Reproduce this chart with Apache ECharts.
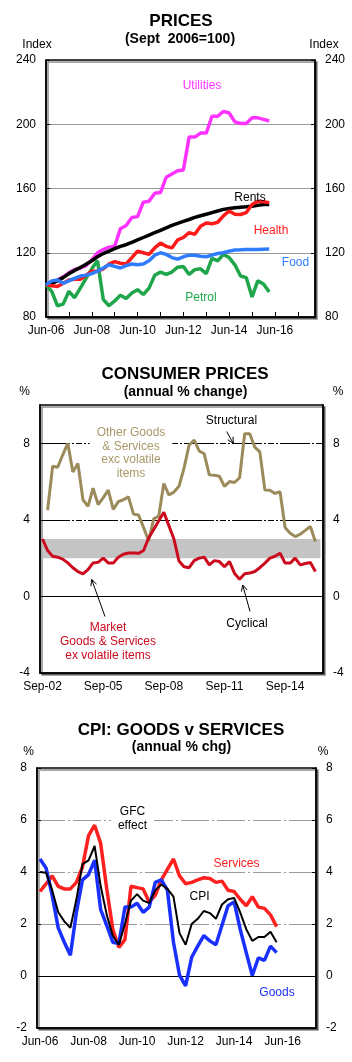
<!DOCTYPE html>
<html>
<head>
<meta charset="utf-8">
<script src="https://cdn.jsdelivr.net/npm/echarts@6/dist/echarts.min.js"></script>
<style>
  html, body { margin: 0; padding: 0; background: #fff; }
  #chart { width: 352px; height: 1062px; }
</style>
</head>
<body>
<div id="chart"></div>
<script>
// ---- data ----
// quarterly categories
var quarterNames = ['Mar', 'Jun', 'Sep', 'Dec'];
function quarterLabels(year, q, count) {
    var out = [];
    for (var i = 0; i < count; i++) {
        out.push(quarterNames[q] + '-' + String(year % 100).padStart(2, '0'));
        q++;
        if (q === 4) { q = 0; year++; }
    }
    return out;
}
var priceQuarters = quarterLabels(2006, 1, 48);   // Jun-06 .. Mar-18
var cpiQuarters = quarterLabels(2002, 2, 56);     // Sep-02 .. Jun-16
var gsQuarters = quarterLabels(2006, 1, 46);      // Jun-06 .. Sep-17

// PRICES (Sept 2006=100)
var utilities = [100, 101, 103, 105, 107.5, 109.5, 110.5, 112, 115.5, 120, 122, 123.5, 124, 135, 137, 142, 142.5, 151.5, 152, 157,
    157.5, 167, 169, 171, 171.5, 192, 192, 194.5, 194.5, 205, 205, 208, 207, 201.5, 200.5, 200.5, 204, 204, 203, 202];
var rents = [100, 101, 102.5, 104.5, 107, 109, 110.8, 112.8, 115, 117.5, 119.5, 121, 122.5, 124, 125, 126.5, 128, 129.5, 131, 132.5,
    134, 135.5, 137, 138.3, 139.5, 140.7, 142, 143, 144, 145, 146, 147, 147.5, 148, 148.3, 148.6, 149, 149.5, 150, 150];
var health = [100, 99.5, 99, 101, 103, 103.5, 103.5, 106, 108.5, 108.5, 110, 113, 114.5, 113.5, 113, 117, 121, 120, 119, 123,
    126, 124, 123, 128, 129.5, 132.5, 131.5, 136.5, 138.5, 138, 139, 143, 146, 144, 143.8, 145, 150, 152, 151.8, 151.2];
var food = [100, 102.5, 103, 101, 102.5, 104, 105.5, 106, 107, 108.5, 110.5, 112.5, 111.5, 110.5, 112, 113, 112.5, 113, 115, 118.5,
    120, 119, 117, 116, 117.5, 118.5, 118.5, 117.8, 117.5, 118.5, 119.5, 120, 121, 121.7, 121.8, 122, 122, 122, 122.2, 122.3];
var petrol = [100, 96, 87, 88, 96, 92, 98, 104, 110, 115, 91, 87, 90, 93.5, 91.5, 95, 97, 94, 98, 106,
    108, 106.5, 108, 111, 111.5, 106.5, 109.5, 110, 107, 116.5, 115, 119, 117, 112.5, 105.5, 104.5, 92.5, 102.5, 100.5, 95.5];

// CONSUMER PRICES (annual % change)
var otherGoods = [null, 4.5, 6.8, 6.75, 7.4, 8.0, 6.5, 6.95, 5.05, 4.7, 5.65, 4.8, 5.15, 5.55, 4.55, 4.95, 5.05, 5.2, 4.3, 4.25,
    3.6, 2.9, 4.05, 4.2, 5.9, 5.3, 5.45, 5.75, 6.7, 7.9, 8.17, 7.6, 7.45, 6.35, 6.33, 6.28, 5.75, 6.0, 5.95, 6.2,
    8.5, 8.5, 7.8, 7.55, 5.56, 5.55, 5.38, 5.47, 3.6, 3.3, 3.13, 3.25, 3.45, 3.65, 2.86];
var marketGoods = [3.0, 2.4, 2.1, 2.05, 1.95, 1.75, 1.5, 1.3, 1.18, 1.4, 1.75, 1.78, 2.0, 1.75, 1.75, 2.05, 2.2, 2.27, 2.27, 2.25,
    2.4, 3.05, 3.5, 3.95, 4.4, 3.7, 3.0, 1.85, 1.55, 1.5, 1.87, 2.0, 2.05, 1.65, 1.87, 1.82, 1.55, 1.82, 1.2, 0.9,
    1.18, 1.22, 1.3, 1.5, 1.74, 2.0, 2.1, 2.26, 1.74, 1.74, 2.0, 1.65, 1.72, 1.77, 1.3];
var targetBand = [2, 3];

// CPI: GOODS v SERVICES (annual % chg)
var services = [3.25, 3.55, 3.85, 3.45, 3.35, 3.35, 3.6, 4.2, 5.4, 5.8, 5.1, 3.35, 1.8, 1.1, 1.4, 3.45, 3.4, 3.35, 2.85, 3.1,
    3.7, 4.1, 4.5, 3.85, 3.55, 3.6, 3.7, 3.78, 3.75, 3.6, 3.65, 3.3, 3.25, 2.95, 2.7, 3.05, 2.65, 2.6, 2.35, 1.9];
var goods = [4.5, 4.15, 3.1, 1.85, 1.3, 0.8, 2.45, 3.7, 3.9, 4.45, 2.55, 1.95, 1.3, 1.25, 2.65, 2.65, 2.8, 2.45, 2.65, 3.6,
    3.7, 3.3, 1.3, 0.03, -0.38, 0.72, 1.15, 1.55, 1.35, 1.2, 1.95, 2.7, 2.85, 1.8, 0.9, 0.02, 0.7, 0.6, 1.15, 0.9];
var cpi = [4.0, 3.97, 3.3, 2.45, 2.1, 1.85, 2.95, 4.3, 4.45, 5.0, 3.45, 2.35, 1.55, 1.2, 2.0, 2.9, 3.15, 2.9, 2.8, 3.3,
    3.52, 3.35, 3.05, 1.65, 1.2, 2.0, 2.2, 2.5, 2.42, 2.2, 2.75, 2.95, 3.0, 2.45, 1.8, 1.35, 1.5, 1.5, 1.7, 1.3];

// ---- helpers ----
var FONT = '"Liberation Sans", Arial, sans-serif';

var gridBox = {
    show: true, borderColor: '#000', borderWidth: 1.5, backgroundColor: '#fff',
    shadowColor: 'rgba(0,0,0,0.45)', shadowOffsetX: 2, shadowOffsetY: 2, shadowBlur: 0
};

function yAxis(grid, pos, min, max, step, split) {
    return {
        type: 'value', gridIndex: grid, position: pos, min: min, max: max, interval: step,
        axisLine: { show: true, lineStyle: { color: '#000', width: 1.5 } },
        axisTick: { show: true, inside: true, length: 4, lineStyle: { color: '#000' } },
        axisLabel: { color: '#000', fontSize: 12, fontFamily: FONT, margin: 10, showMaxLabel: max % step === 0 },
        splitLine: split ? { show: true, showMinLine: false, showMaxLine: false, lineStyle: split } : { show: false }
    };
}

function xLabels(grid, data, labelEvery, gap, onZeroTicks) {
    return {
        type: 'category', gridIndex: grid, data: data, boundaryGap: gap, position: 'bottom',
        axisLine: { onZero: false, lineStyle: { color: '#000', width: 1.5 } },
        axisTick: onZeroTicks ? { show: false } : { inside: true, length: 5, interval: 3, lineStyle: { color: '#000' } },
        axisLabel: { interval: labelEvery - 1, color: '#000', fontSize: 12, fontFamily: FONT, margin: 8 },
        splitLine: { show: false }
    };
}

// zero line carrying the yearly ticks
function xZero(grid, data) {
    return {
        type: 'category', gridIndex: grid, data: data, boundaryGap: true, position: 'bottom',
        axisLine: { onZero: true, lineStyle: { color: '#000', width: 1 } },
        axisTick: { inside: true, length: 5, interval: 3, lineStyle: { color: '#000' } },
        axisLabel: { show: false },
        splitLine: { show: false }
    };
}

function line(name, data, xi, yi, color, width) {
    return {
        name: name, type: 'line', data: data, xAxisIndex: xi, yAxisIndex: yi,
        symbol: 'none', connectNulls: false,
        lineStyle: { color: color, width: width }, itemStyle: { color: color }
    };
}

function txt(x, y, text, color, font, extra) {
    var style = { text: text, x: x, y: y, fill: color, font: font || ('12px ' + FONT), align: 'center', verticalAlign: 'middle' };
    if (extra) Object.assign(style, extra);
    return { type: 'text', z: 100, style: style };
}

function arrow(x1, y1, x2, y2) {
    var a = Math.atan2(y2 - y1, x2 - x1), L = 6, W = 3;
    var bx = x2 - L * Math.cos(a), by = y2 - L * Math.sin(a);
    var px = -Math.sin(a) * W, py = Math.cos(a) * W;
    return [
        { type: 'line', z: 100, shape: { x1: x1, y1: y1, x2: x2, y2: y2 }, style: { stroke: '#000', lineWidth: 1 } },
        { type: 'polyline', z: 100, shape: { points: [[bx + px, by + py], [x2, y2], [bx - px, by - py]] },
          style: { stroke: '#000', lineWidth: 1, fill: null } }
    ];
}

var TITLE = 'bold 17px ' + FONT;
var SUB = 'bold 14px ' + FONT;
var white = { backgroundColor: '#fff', padding: [1, 7, 3, 7] };

var graphics = [
    // PRICES
    txt(181, 21, 'PRICES', '#000', TITLE),
    txt(180, 39.5, '(Sept  2006=100)', '#000', SUB),
    txt(37, 45, 'Index', '#000'),
    txt(324, 45, 'Index', '#000'),
    txt(202, 86, 'Utilities', '#ff33ff'),
    txt(250, 197.5, 'Rents', '#000'),
    txt(271, 230.5, 'Health', '#ff1a1a'),
    txt(295.5, 262.5, 'Food', '#2f7cff'),
    txt(201, 297.5, 'Petrol', '#1fa64a'),
    // CONSUMER PRICES
    txt(185, 374, 'CONSUMER PRICES', '#000', TITLE),
    txt(185.5, 392.5, '(annual % change)', '#000', SUB),
    txt(24.5, 391.5, '%', '#000'),
    txt(338, 391.5, '%', '#000'),
    txt(131, 453, 'Other Goods\n& Services\nexc volatile\nitems', '#a8986a', null, Object.assign({ lineHeight: 13.6 }, white)),
    txt(231.5, 420.5, 'Structural', '#000'),
    txt(108, 641.5, 'Market\nGoods & Services\nex volatile items', '#cc0a1e', null, { lineHeight: 14.2 }),
    txt(247, 623.5, 'Cyclical', '#000'),
    // CPI: GOODS v SERVICES
    txt(181, 730.5, 'CPI: GOODS v SERVICES', '#000', TITLE),
    txt(181.5, 747.5, '(annual % chg)', '#000', SUB),
    txt(28.5, 751.5, '%', '#000'),
    txt(323, 751.5, '%', '#000'),
    txt(132.5, 819, 'GFC\neffect', '#000', null, Object.assign({ lineHeight: 14.3 }, white)),
    txt(236.5, 863.3, 'Services', '#ff2020', null, white),
    txt(199.5, 896.5, 'CPI', '#000'),
    txt(277, 992.5, 'Goods', '#1a30ff')
].concat(
    arrow(226.7, 431.5, 233.3, 443.5),
    arrow(105, 616.5, 91.7, 579.5),
    arrow(250, 611.5, 242.7, 585)
);

// ---- chart ----
var chart = echarts.init(document.getElementById('chart'));

var option = {
    animation: false,
    backgroundColor: '#fff',
    textStyle: { fontFamily: FONT },
    grid: [
        Object.assign({ left: 46, top: 60, width: 269, height: 257, outerBoundsMode: 'none' }, gridBox),
        Object.assign({ left: 40, top: 405, width: 283, height: 268, outerBoundsMode: 'none' }, gridBox),
        Object.assign({ left: 37, top: 768, width: 279, height: 260, outerBoundsMode: 'none' }, gridBox)
    ],
    xAxis: [
        xLabels(0, priceQuarters, 8, false, false),
        xLabels(1, cpiQuarters, 12, true, true),
        xZero(1, cpiQuarters),
        xLabels(2, gsQuarters, 8, true, true),
        xZero(2, gsQuarters)
    ],
    yAxis: [
        yAxis(0, 'left', 80, 240, 40, { color: '#9a9a9a', width: 1 }),
        yAxis(0, 'right', 80, 240, 40, null),
        yAxis(1, 'left', -4, 10, 4, { color: '#000', width: 1, type: [30, 2, 2, 2, 6, 2, 2, 2] }),
        yAxis(1, 'right', -4, 10, 4, null),
        yAxis(2, 'left', -2, 8, 2, { color: '#9a9a9a', width: 1, type: [28, 3, 2, 3] }),
        yAxis(2, 'right', -2, 8, 2, null)
    ],
    series: [
        line('Utilities', utilities, 0, 0, '#ff33ff', 3.5),
        line('Petrol', petrol, 0, 0, '#1fa64a', 3.5),
        line('Rents', rents, 0, 0, '#000', 3.5),
        line('Health', health, 0, 0, '#ff1a1a', 3.5),
        line('Food', food, 0, 0, '#2f7cff', 3.5),

        {
            name: 'Target', type: 'line', data: [], xAxisIndex: 1, yAxisIndex: 2, symbol: 'none',
            markArea: {
                silent: true,
                itemStyle: { color: '#c4c4c4' },
                data: [[
                    { xAxis: cpiQuarters[0], yAxis: targetBand[0] },
                    { xAxis: cpiQuarters[55], yAxis: targetBand[1] }
                ]]
            }
        },
        line('Other Goods & Services', otherGoods, 1, 2, '#9b8b5b', 3),
        line('Market Goods & Services', marketGoods, 1, 2, '#cc0a1e', 3),

        line('Services', services, 3, 4, '#ff2020', 3.5),
        line('Goods', goods, 3, 4, '#1a30ff', 3.5),
        line('CPI', cpi, 3, 4, '#000', 2)
    ],
    graphic: graphics
};

chart.setOption(option);
</script>
</body>
</html>
